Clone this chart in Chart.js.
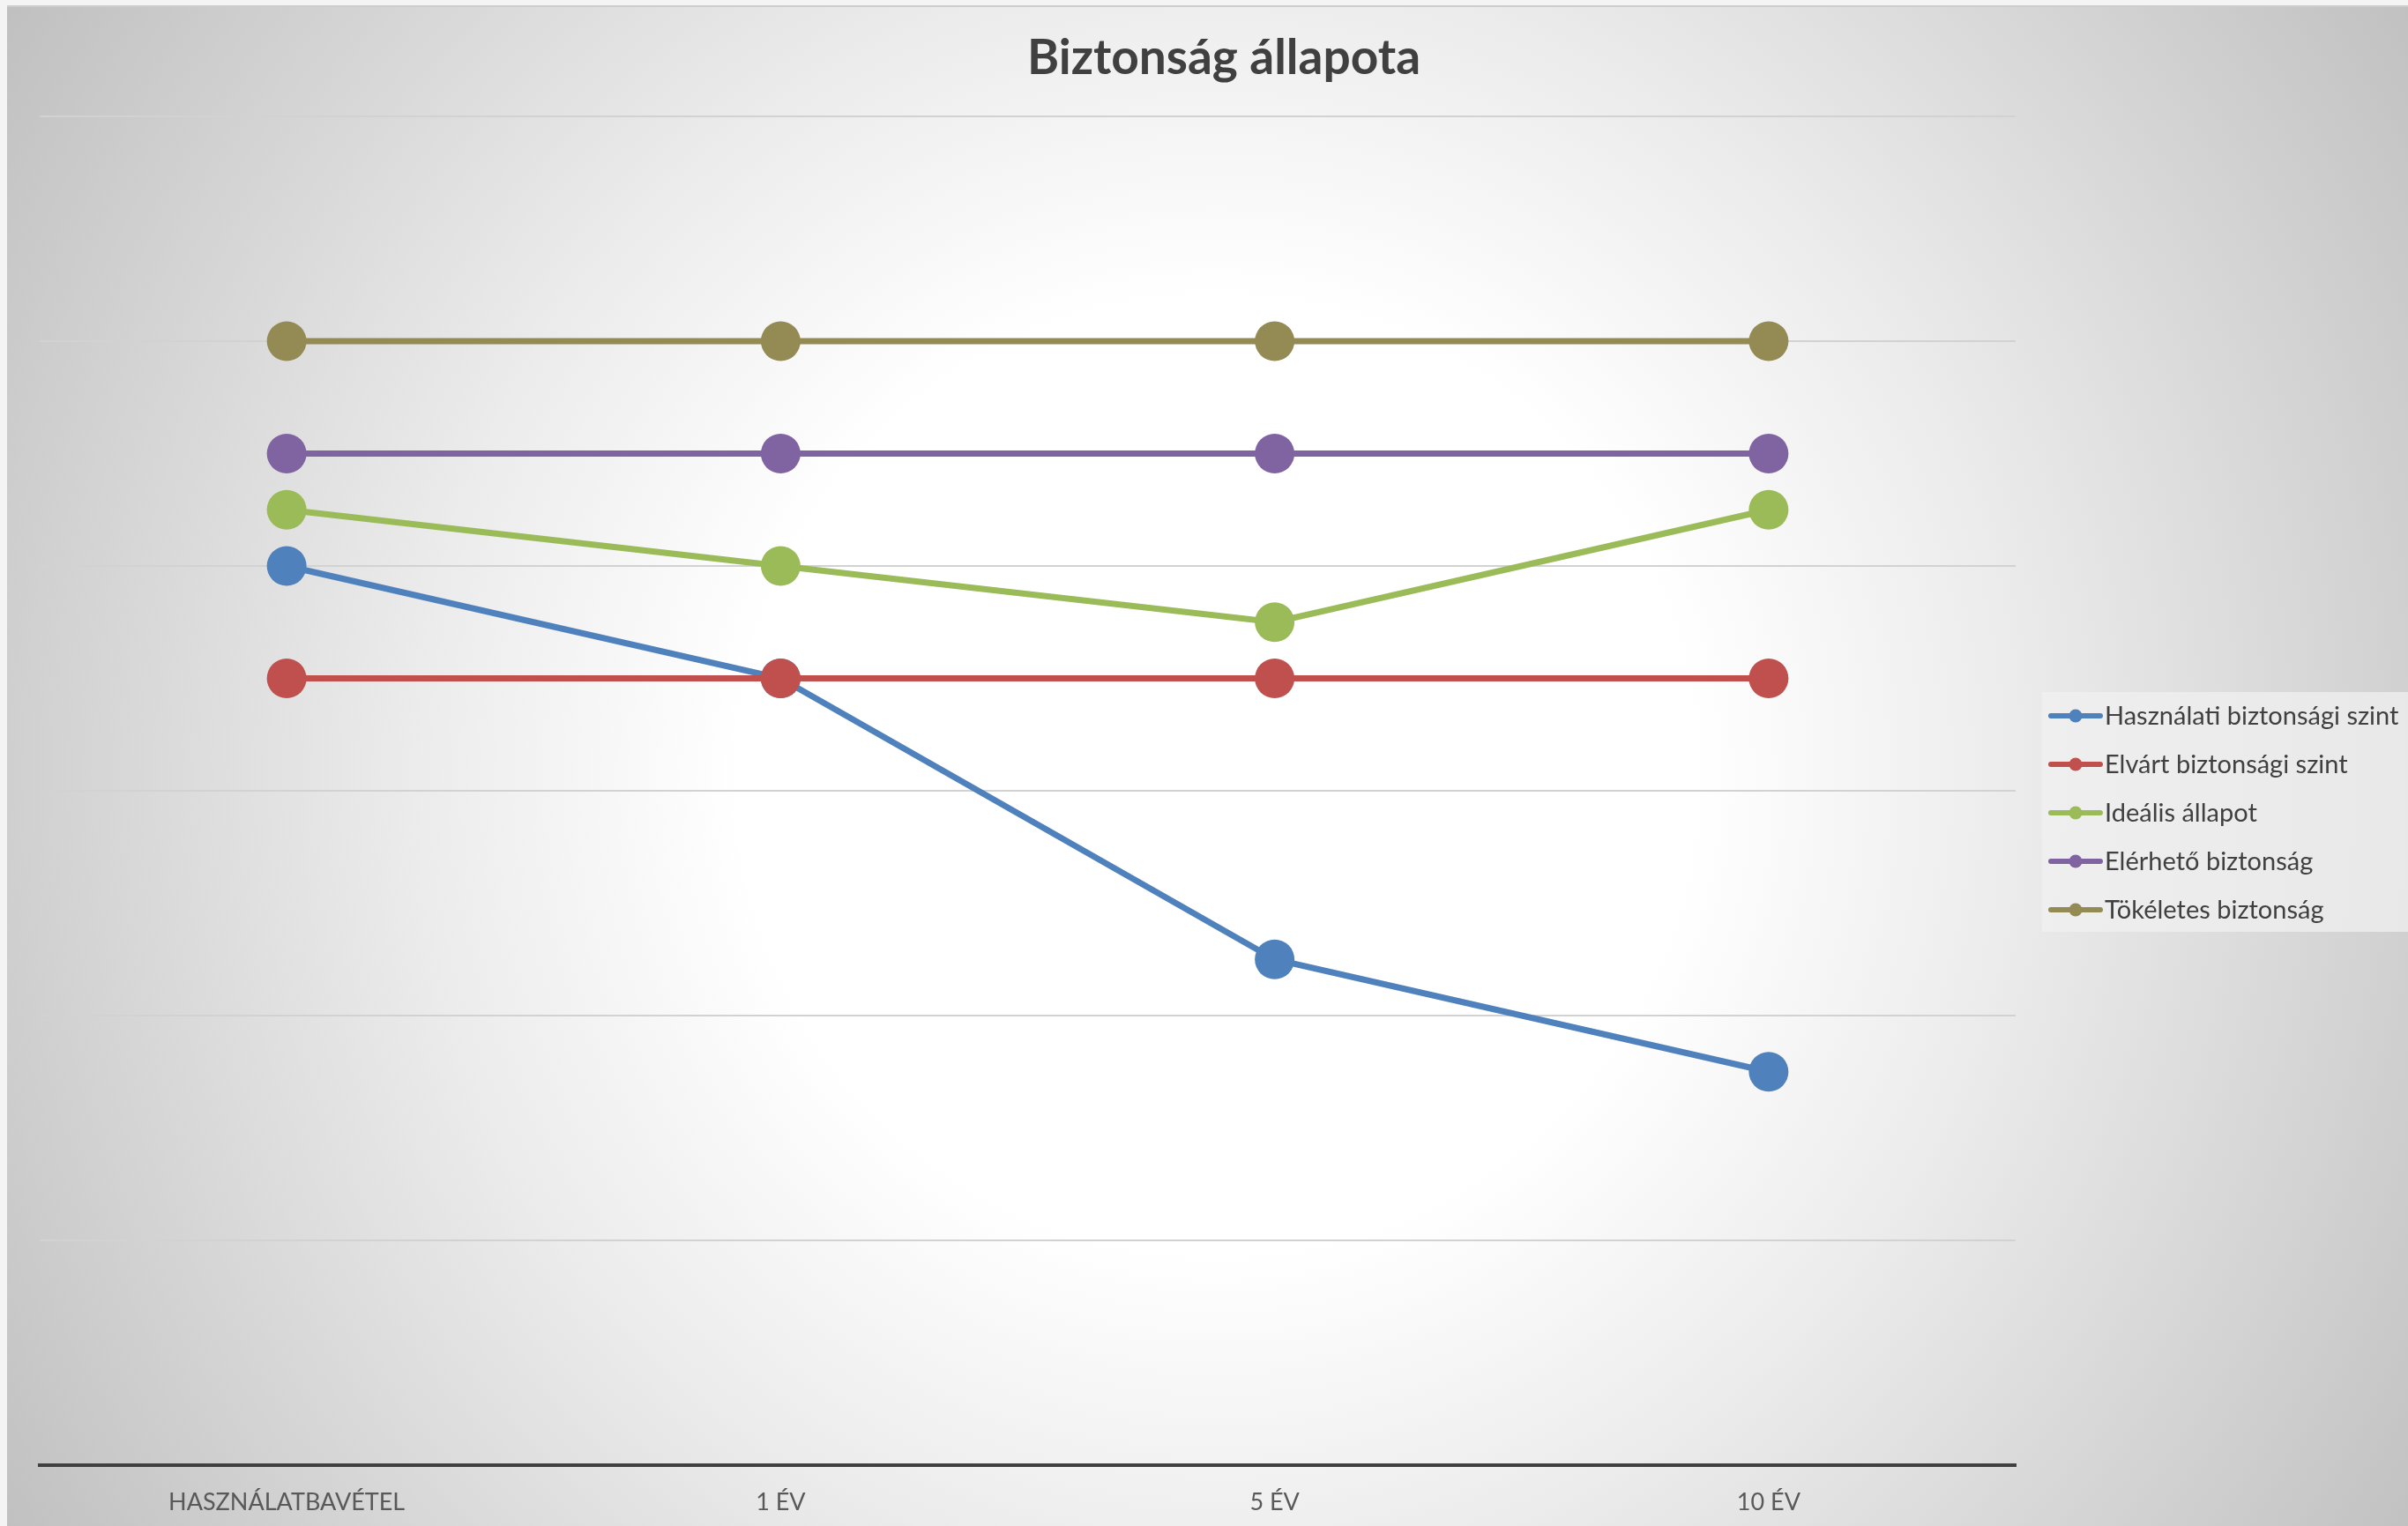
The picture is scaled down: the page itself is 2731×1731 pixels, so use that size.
<!DOCTYPE html>
<html>
<head>
<meta charset="utf-8">
<title>Biztonság állapota</title>
<script src="https://cdn.jsdelivr.net/npm/chart.js@4.4.1/dist/chart.umd.min.js"></script>
<style>
  html, body { margin: 0; padding: 0; background: #f4f4f4; }
  #wrap { width: 2731px; height: 1731px; }
</style>
</head>
<body>
<div id="wrap"><canvas id="lineChart" width="2731" height="1731"></canvas></div>
<script>
// categories and series (gridline step = 1)
var labels = ["HASZNÁLATBAVÉTEL", "1 ÉV", "5 ÉV", "10 ÉV"];
var hasznalati = [4, 3.5, 2.25, 1.75];
var elvart = [3.5, 3.5, 3.5, 3.5];
var idealis = [4.25, 4, 3.75, 4.25];
var elerheto = [4.5, 4.5, 4.5, 4.5];
var tokeletes = [5, 5, 5, 5];
var seriesNames = ["Használati biztonsági szint", "Elvárt biztonsági szint", "Ideális állapot", "Elérhető biztonság", "Tökéletes biztonság"];
var colors = ["#4f81bd", "#c0504d", "#9bbb59", "#8064a2", "#948a54"];

var FONT = "Lato, 'Open Sans', sans-serif";

function makeSet(i, data) {
    return {
        label: seriesNames[i],
        data: data,
        borderColor: colors[i],
        backgroundColor: colors[i],
        pointBackgroundColor: colors[i],
        pointBorderWidth: 0,
        pointRadius: 22.5,
        pointHoverRadius: 22.5,
        borderWidth: 7,
        tension: 0,
        fill: false,
        order: 5 - i   // later series drawn on top, like excel
    };
}

// background: light frame + radial grey gradient
var bgPlugin = {
    id: 'bg',
    beforeDraw: function (chart) {
        var ctx = chart.ctx, w = chart.width, h = chart.height;
        ctx.save();
        ctx.fillStyle = '#f4f4f4';
        ctx.fillRect(0, 0, w, h);
        var cx = 1380, cy = 880;
        var g = ctx.createRadialGradient(cx, cy, 0, cx, cy, 1640);
        g.addColorStop(0, '#ffffff');
        g.addColorStop(0.33, '#ffffff');
        g.addColorStop(0.55, '#ececec');
        g.addColorStop(0.8, '#d3d3d3');
        g.addColorStop(1, '#bfbfbf');
        ctx.fillStyle = g;
        ctx.fillRect(8, 7, w - 8, h - 7);
        ctx.fillStyle = '#cdcdcd';
        ctx.fillRect(8, 6, w - 8, 2);
        ctx.restore();
    }
};

// legend on the right: line + dot sample like excel
var legendPlugin = {
    id: 'sideLegend',
    afterDraw: function (chart) {
        var ctx = chart.ctx, area = chart.chartArea;
        var sets = chart.data.datasets;
        var step = 55;
        var boxLeft = area.right + 30;
        var boxTop = 785;
        var boxH = step * sets.length - 3;
        ctx.save();
        ctx.fillStyle = 'rgba(240,240,240,0.75)';
        ctx.fillRect(boxLeft, boxTop, chart.width - boxLeft, boxH);
        ctx.font = "29px " + FONT;
        ctx.textBaseline = 'middle';
        ctx.textAlign = 'left';
        sets.forEach(function (ds, i) {
            var y = boxTop + 27 + i * step;
            var x0 = area.right + 40;
            ctx.strokeStyle = ds.borderColor;
            ctx.lineWidth = 6;
            ctx.lineCap = 'round';
            ctx.beginPath();
            ctx.moveTo(x0, y);
            ctx.lineTo(x0 + 56, y);
            ctx.stroke();
            ctx.fillStyle = ds.borderColor;
            ctx.beginPath();
            ctx.arc(x0 + 28, y, 7.5, 0, Math.PI * 2);
            ctx.fill();
            ctx.fillStyle = '#404040';
            ctx.fillText(ds.label, x0 + 61, y + 1);
        });
        ctx.restore();
    }
};

var ctx = document.getElementById("lineChart").getContext("2d");
new Chart(ctx, {
    type: 'line',
    data: {
        labels: labels,
        datasets: [
            makeSet(0, hasznalati),
            makeSet(1, elvart),
            makeSet(2, idealis),
            makeSet(3, elerheto),
            makeSet(4, tokeletes)
        ]
    },
    options: {
        responsive: false,
        animation: false,
        maintainAspectRatio: false,
        layout: { padding: { left: 45, right: 0, top: 0, bottom: 0 } },
        plugins: {
            legend: { display: false },
            tooltip: { enabled: false },
            title: {
                display: true,
                text: 'Biztonság állapota',
                color: '#404040',
                font: { family: FONT, size: 55, weight: 'bold' },
                padding: { top: 33, bottom: 33 }
            }
        },
        scales: {
            x: {
                offset: true,
                grid: { display: false, drawTicks: false },
                border: { display: true, color: '#404040', width: 4 },
                ticks: {
                    color: '#595959',
                    padding: 26,
                    maxRotation: 0,
                    font: { family: FONT, size: 27 }
                },
                afterFit: function (scale) { scale.height = 69; }
            },
            y: {
                min: 0,
                max: 6,
                grid: { color: '#d2d2d2', lineWidth: 2, drawTicks: false },
                border: { display: false },
                ticks: { display: false, stepSize: 1 }
            },
            // empty right-hand axis that keeps room for the legend
            side: {
                position: 'right',
                grid: { display: false, drawTicks: false },
                border: { display: false },
                ticks: { display: false },
                afterFit: function (scale) { scale.width = 445; }
            }
        }
    },
    plugins: [bgPlugin, legendPlugin]
});
</script>
</body>
</html>
